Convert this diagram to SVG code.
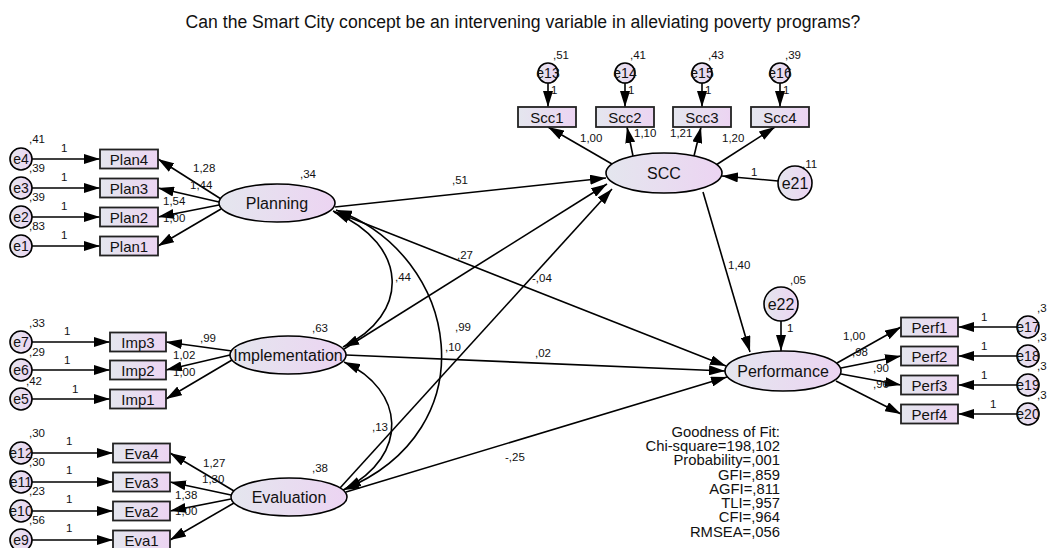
<svg xmlns="http://www.w3.org/2000/svg" width="1047" height="548" viewBox="0 0 1047 548">
<defs>
<linearGradient id="g" x1="0" y1="0" x2="1" y2="0">
<stop offset="0" stop-color="#e4e6ee"/>
<stop offset="1" stop-color="#ecd4f2"/>
</linearGradient>
<marker id="ah" markerUnits="userSpaceOnUse" markerWidth="16" markerHeight="10" refX="16" refY="5" orient="auto-start-reverse">
<path d="M0,0 L16,5 L0,10 z" fill="#000"/>
</marker>
</defs>
<style>
.n{fill:url(#g);stroke:#000;stroke-width:1.6}
.b{fill:url(#g);stroke:#222;stroke-width:1.8}
.c{fill:none;stroke:#000;stroke-width:1.6;marker-end:url(#ah)}
.d{fill:none;stroke:#000;stroke-width:1.6;marker-start:url(#ah);marker-end:url(#ah)}
text{font-family:"Liberation Sans",Arial,sans-serif;fill:#111}
.t{font-size:16px;text-anchor:middle}
.bt{font-size:15px;text-anchor:middle}
.et{font-size:14px;text-anchor:middle}
.s{font-size:11.5px}
.gf{font-size:14.8px;text-anchor:end}
</style>
<rect width="1047" height="548" fill="#fff"/>
<text x="523" y="28" style="font-size:17.6px;text-anchor:middle">Can the Smart City concept be an intervening variable in alleviating poverty programs?</text>

<g id="connectors">
<line class="c" x1="32" y1="159" x2="100" y2="159"/>
<line class="c" x1="32" y1="188" x2="100" y2="188"/>
<line class="c" x1="32" y1="217" x2="100" y2="217"/>
<line class="c" x1="32" y1="246" x2="100" y2="246"/>
<line class="c" x1="221" y1="199" x2="158" y2="159"/>
<line class="c" x1="219" y1="202" x2="158" y2="188"/>
<line class="c" x1="219" y1="205" x2="158" y2="217"/>
<line class="c" x1="221" y1="209" x2="158" y2="246"/>
<line class="c" x1="32" y1="342" x2="110" y2="342"/>
<line class="c" x1="32" y1="370" x2="110" y2="370"/>
<line class="c" x1="32" y1="399" x2="110" y2="399"/>
<line class="c" x1="232" y1="351" x2="166" y2="342"/>
<line class="c" x1="230" y1="355" x2="166" y2="370"/>
<line class="c" x1="232" y1="360" x2="166" y2="399"/>
<line class="c" x1="32" y1="453" x2="113" y2="453"/>
<line class="c" x1="32" y1="482" x2="113" y2="482"/>
<line class="c" x1="32" y1="511" x2="113" y2="511"/>
<line class="c" x1="32" y1="540" x2="113" y2="540"/>
<line class="c" x1="234" y1="491" x2="170" y2="453"/>
<line class="c" x1="231" y1="495" x2="170" y2="482"/>
<line class="c" x1="231" y1="499" x2="170" y2="511"/>
<line class="c" x1="234" y1="503" x2="170" y2="540"/>
<line class="c" x1="548" y1="83" x2="548" y2="107"/>
<line class="c" x1="625" y1="83" x2="625" y2="107"/>
<line class="c" x1="702" y1="83" x2="702" y2="107"/>
<line class="c" x1="780" y1="83" x2="780" y2="107"/>
<line class="c" x1="612" y1="164" x2="548" y2="127"/>
<line class="c" x1="633" y1="156" x2="627" y2="127"/>
<line class="c" x1="694" y1="156" x2="701" y2="127"/>
<line class="c" x1="716" y1="165" x2="775" y2="127"/>
<line class="c" x1="778" y1="181" x2="722" y2="176"/>
<line class="c" x1="1017" y1="327" x2="958" y2="327"/>
<line class="c" x1="1017" y1="356" x2="958" y2="356"/>
<line class="c" x1="1017" y1="385" x2="958" y2="385"/>
<line class="c" x1="1017" y1="414" x2="958" y2="414"/>
<line class="c" x1="837" y1="363" x2="901" y2="327"/>
<line class="c" x1="841" y1="368" x2="901" y2="356"/>
<line class="c" x1="841" y1="374" x2="901" y2="385"/>
<line class="c" x1="836" y1="381" x2="901" y2="414"/>
<line class="c" x1="781" y1="321" x2="781" y2="351"/>
<line class="c" x1="335" y1="207" x2="606" y2="178"/>
<line class="c" x1="344" y1="349" x2="607" y2="184"/>
<line class="c" x1="340" y1="488" x2="612" y2="189"/>
<line class="c" x1="333" y1="211" x2="726" y2="366"/>
<line class="c" x1="346" y1="355" x2="725" y2="371"/>
<line class="c" x1="346" y1="492" x2="727" y2="377"/>
<line class="c" x1="703" y1="192" x2="750" y2="352"/>
<path class="d" d="M334,212 C410,245 410,315 343,347"/>
<path class="d" d="M336,210 C460,255 490,430 343,490"/>
<path class="d" d="M344,362 C405,390 410,455 345,489"/>
</g>

<g id="Planning"><ellipse class="n" cx="277" cy="203" rx="58" ry="19"/><text class="t" x="277" y="209">Planning</text></g>
<g id="Implementation"><ellipse class="n" cx="288" cy="355" rx="58" ry="19"/><text class="t" x="288" y="361">Implementation</text></g>
<g id="Evaluation"><ellipse class="n" cx="289" cy="497" rx="58" ry="19"/><text class="t" x="289" y="503">Evaluation</text></g>
<g id="SCC"><ellipse class="n" cx="664" cy="173" rx="58" ry="20"/><text class="t" x="664" y="179">SCC</text></g>
<g id="Performance"><ellipse class="n" cx="783" cy="371" rx="58" ry="20"/><text class="t" x="783" y="377">Performance</text></g>

<g id="Plan4"><rect class="b" x="100" y="149.5" width="58" height="19"/><text class="bt" x="129" y="164.5">Plan4</text></g>
<g id="Plan3"><rect class="b" x="100" y="178.5" width="58" height="19"/><text class="bt" x="129" y="193.5">Plan3</text></g>
<g id="Plan2"><rect class="b" x="100" y="207.5" width="58" height="19"/><text class="bt" x="129" y="222.5">Plan2</text></g>
<g id="Plan1"><rect class="b" x="100" y="236.5" width="58" height="19"/><text class="bt" x="129" y="251.5">Plan1</text></g>
<g id="Imp3"><rect class="b" x="110" y="332.5" width="56" height="19"/><text class="bt" x="138" y="347.5">Imp3</text></g>
<g id="Imp2"><rect class="b" x="110" y="360.5" width="56" height="19"/><text class="bt" x="138" y="375.5">Imp2</text></g>
<g id="Imp1"><rect class="b" x="110" y="389.5" width="56" height="19"/><text class="bt" x="138" y="404.5">Imp1</text></g>
<g id="Eva4"><rect class="b" x="113" y="443.5" width="57" height="19"/><text class="bt" x="141.5" y="458.5">Eva4</text></g>
<g id="Eva3"><rect class="b" x="113" y="472.5" width="57" height="19"/><text class="bt" x="141.5" y="487.5">Eva3</text></g>
<g id="Eva2"><rect class="b" x="113" y="501.5" width="57" height="19"/><text class="bt" x="141.5" y="516.5">Eva2</text></g>
<g id="Eva1"><rect class="b" x="113" y="530.5" width="57" height="19"/><text class="bt" x="141.5" y="545.5">Eva1</text></g>
<g id="Scc1"><rect class="b" x="518" y="107" width="58" height="20"/><text class="bt" x="547" y="122.5">Scc1</text></g>
<g id="Scc2"><rect class="b" x="596" y="107" width="58" height="20"/><text class="bt" x="625" y="122.5">Scc2</text></g>
<g id="Scc3"><rect class="b" x="673" y="107" width="58" height="20"/><text class="bt" x="702" y="122.5">Scc3</text></g>
<g id="Scc4"><rect class="b" x="751" y="107" width="58" height="20"/><text class="bt" x="780" y="122.5">Scc4</text></g>
<g id="Perf1"><rect class="b" x="901" y="317.5" width="57" height="19"/><text class="bt" x="929.5" y="332.5">Perf1</text></g>
<g id="Perf2"><rect class="b" x="901" y="346.5" width="57" height="19"/><text class="bt" x="929.5" y="361.5">Perf2</text></g>
<g id="Perf3"><rect class="b" x="901" y="375.5" width="57" height="19"/><text class="bt" x="929.5" y="390.5">Perf3</text></g>
<g id="Perf4"><rect class="b" x="901" y="404.5" width="57" height="19"/><text class="bt" x="929.5" y="419.5">Perf4</text></g>

<g id="e4"><circle class="n" cx="21" cy="159" r="11"/><text class="et" x="21" y="164">e4</text></g>
<g id="e3"><circle class="n" cx="21" cy="188" r="11"/><text class="et" x="21" y="193">e3</text></g>
<g id="e2"><circle class="n" cx="21" cy="217" r="11"/><text class="et" x="21" y="222">e2</text></g>
<g id="e1"><circle class="n" cx="21" cy="246" r="11"/><text class="et" x="21" y="251">e1</text></g>
<g id="e7"><circle class="n" cx="21" cy="342" r="11"/><text class="et" x="21" y="347">e7</text></g>
<g id="e6"><circle class="n" cx="21" cy="370" r="11"/><text class="et" x="21" y="375">e6</text></g>
<g id="e5"><circle class="n" cx="21" cy="399" r="11"/><text class="et" x="21" y="404">e5</text></g>
<g id="e12"><circle class="n" cx="21" cy="453" r="11"/><text class="et" x="21" y="458">e12</text></g>
<g id="e11"><circle class="n" cx="21" cy="482" r="11"/><text class="et" x="21" y="487">e11</text></g>
<g id="e10"><circle class="n" cx="21" cy="511" r="11"/><text class="et" x="21" y="516">e10</text></g>
<g id="e9"><circle class="n" cx="21" cy="540" r="11"/><text class="et" x="21" y="545">e9</text></g>
<g id="e13"><circle class="n" cx="548" cy="73" r="10"/><text class="et" x="548" y="78">e13</text></g>
<g id="e14"><circle class="n" cx="625" cy="73" r="10"/><text class="et" x="625" y="78">e14</text></g>
<g id="e15"><circle class="n" cx="702" cy="73" r="10"/><text class="et" x="702" y="78">e15</text></g>
<g id="e16"><circle class="n" cx="780" cy="73" r="10"/><text class="et" x="780" y="78">e16</text></g>
<g id="e21"><circle class="n" cx="795" cy="183" r="17"/><text class="t" x="795" y="189">e21</text></g>
<g id="e22"><circle class="n" cx="781" cy="304" r="17"/><text class="t" x="781" y="310">e22</text></g>
<g id="e17"><circle class="n" cx="1028" cy="327" r="11"/><text class="et" x="1028" y="332">e17</text></g>
<g id="e18"><circle class="n" cx="1028" cy="356" r="11"/><text class="et" x="1028" y="361">e18</text></g>
<g id="e19"><circle class="n" cx="1028" cy="385" r="11"/><text class="et" x="1028" y="390">e19</text></g>
<g id="e20"><circle class="n" cx="1028" cy="414" r="11"/><text class="et" x="1028" y="419">e20</text></g>

<g id="labels">
<text class="s" x="29" y="143">,41</text><text class="s" x="61" y="152">1</text>
<text class="s" x="29" y="172">,39</text><text class="s" x="61" y="181">1</text>
<text class="s" x="29" y="201">,39</text><text class="s" x="61" y="210">1</text>
<text class="s" x="29" y="230">,83</text><text class="s" x="61" y="239">1</text>
<text class="s" x="193" y="172">1,28</text>
<text class="s" x="190" y="189">1,44</text>
<text class="s" x="163" y="205">1,54</text>
<text class="s" x="163" y="222">1,00</text>
<text class="s" x="300" y="178">,34</text>
<text class="s" x="29" y="327">,33</text><text class="s" x="64" y="335">1</text>
<text class="s" x="29" y="356">,29</text><text class="s" x="64" y="364">1</text>
<text class="s" x="26" y="385">,42</text><text class="s" x="72" y="393">1</text>
<text class="s" x="200" y="342">,99</text>
<text class="s" x="173" y="359">1,02</text>
<text class="s" x="173" y="376">1,00</text>
<text class="s" x="312" y="332">,63</text>
<text class="s" x="29" y="437">,30</text><text class="s" x="66" y="445">1</text>
<text class="s" x="29" y="466">,30</text><text class="s" x="66" y="474">1</text>
<text class="s" x="29" y="495">,23</text><text class="s" x="66" y="503">1</text>
<text class="s" x="29" y="524">,56</text><text class="s" x="66" y="532">1</text>
<text class="s" x="203" y="467">1,27</text>
<text class="s" x="202" y="483">1,30</text>
<text class="s" x="175" y="499">1,38</text>
<text class="s" x="175" y="515">1,00</text>
<text class="s" x="312" y="472">,38</text>
<text class="s" x="553" y="59">,51</text><text class="s" x="551" y="94">1</text>
<text class="s" x="630" y="59">,41</text><text class="s" x="628" y="94">1</text>
<text class="s" x="708" y="59">,43</text><text class="s" x="705" y="94">1</text>
<text class="s" x="785" y="59">,39</text><text class="s" x="783" y="94">1</text>
<text class="s" x="580" y="142">1,00</text>
<text class="s" x="634" y="137">1,10</text>
<text class="s" x="670" y="137">1,21</text>
<text class="s" x="722" y="142">1,20</text>
<text class="s" x="802" y="168">,11</text>
<text class="s" x="751" y="176">1</text>
<text class="s" x="452" y="184">,51</text>
<text class="s" x="395" y="281">,44</text>
<text class="s" x="457" y="259">,27</text>
<text class="s" x="532" y="282">-,04</text>
<text class="s" x="455" y="331">,99</text>
<text class="s" x="445" y="351">,10</text>
<text class="s" x="535" y="357">,02</text>
<text class="s" x="372" y="431">,13</text>
<text class="s" x="505" y="461">-,25</text>
<text class="s" x="728" y="269">1,40</text>
<text class="s" x="790" y="284">,05</text>
<text class="s" x="787" y="332">1</text>
<text class="s" x="843" y="340">1,00</text>
<text class="s" x="852" y="356">,98</text>
<text class="s" x="873" y="372">,90</text>
<text class="s" x="873" y="388">,96</text>
<text class="s" x="981" y="321">1</text>
<text class="s" x="981" y="350">1</text>
<text class="s" x="981" y="379">1</text>
<text class="s" x="990" y="408">1</text>
<text class="s" x="1037" y="312">,3</text>
<text class="s" x="1037" y="341">,3</text>
<text class="s" x="1037" y="370">,3</text>
<text class="s" x="1037" y="399">,3</text>
</g>

<g id="fit">
<text class="gf" x="780" y="437">Goodness of Fit:</text>
<text class="gf" x="780" y="451">Chi-square=198,102</text>
<text class="gf" x="780" y="465">Probability=,001</text>
<text class="gf" x="780" y="480">GFI=,859</text>
<text class="gf" x="780" y="494">AGFI=,811</text>
<text class="gf" x="780" y="508">TLI=,957</text>
<text class="gf" x="780" y="522">CFI=,964</text>
<text class="gf" x="780" y="537">RMSEA=,056</text>
</g>
</svg>
